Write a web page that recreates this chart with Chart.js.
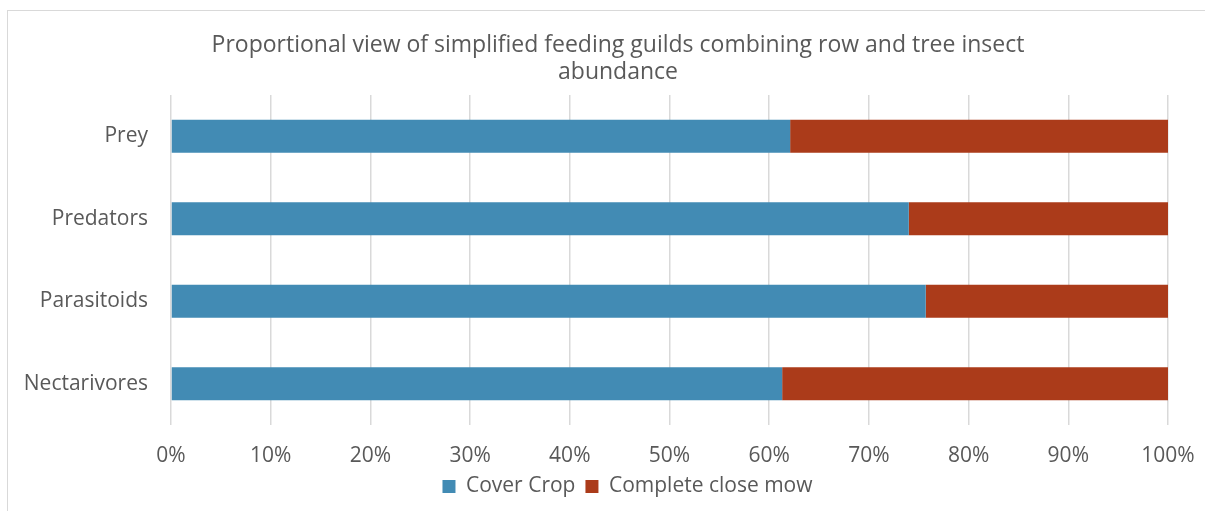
<!DOCTYPE html>
<html>
<head>
<meta charset="utf-8">
<script src="https://cdn.jsdelivr.net/npm/chart.js@4.4.0/dist/chart.umd.min.js"></script>
<style>
  html, body { margin: 0; padding: 0; background: #fff; overflow: hidden; }
  #wrap { position: relative; width: 1205px; height: 511px; }
  #frame { position: absolute; left: 7px; top: 10px; width: 1300px; height: 600px;
           border-top: 1.5px solid #d9d9d9; border-left: 1.5px solid #d9d9d9; }
  canvas { position: absolute; left: 0; top: 0; }
</style>
</head>
<body>
<div id="wrap">
  <div id="frame"></div>
  <canvas id="guildChart" width="1205" height="511"></canvas>
</div>
<script>
const guilds = ['Prey', 'Predators', 'Parasitoids', 'Nectarivores'];
const coverCrop = [62.1, 74.0, 75.7, 61.3];
const closeMow = [37.9, 26.0, 24.3, 38.7];
const pctTicks = [0, 10, 20, 30, 40, 50, 60, 70, 80, 90, 100];

const font = "'Open Sans', Lato, sans-serif";
Chart.defaults.font.family = font;
Chart.defaults.color = '#595959';

// the chart frame runs past the right edge of the picture, so the title
// and legend are centred on the frame rather than on the canvas
const frameCentre = {
  id: 'frameCentre',
  afterLayout(chart) {
    chart.titleBlock.left = 31;
    chart.legend.left = 50;
  }
};

const ctx = document.getElementById('guildChart');
new Chart(ctx, {
  type: 'bar',
  data: {
    labels: guilds,
    datasets: [
      {
        label: 'Cover Crop',
        data: coverCrop,
        backgroundColor: '#428bb4',
        barPercentage: 1,
        categoryPercentage: 0.4
      },
      {
        label: 'Complete close mow',
        data: closeMow,
        backgroundColor: '#ab3b1a',
        barPercentage: 1,
        categoryPercentage: 0.4
      }
    ]
  },
  plugins: [frameCentre],
  options: {
    indexAxis: 'y',
    responsive: false,
    animation: false,
    layout: { padding: { left: 0, right: 0, top: 0, bottom: 4 } },
    plugins: {
      title: {
        display: true,
        text: ['Proportional view of simplified feeding guilds combining row and tree insect', 'abundance'],
        color: '#595959',
        font: { size: 23, weight: 'normal', lineHeight: 1.174 },
        padding: { top: 32, bottom: 9 }
      },
      legend: {
        position: 'bottom',
        labels: {
          boxWidth: 13,
          boxHeight: 13,
          padding: 10,
          color: '#595959',
          font: { size: 21 }
        }
      },
      tooltip: { enabled: false }
    },
    scales: {
      x: {
        stacked: true,
        min: 0,
        max: 100,
        afterBuildTicks: scale => { scale.ticks = pctTicks.map(v => ({ value: v })); },
        afterFit: scale => { scale.height = 41; scale.paddingRight = 37; },
        border: { display: false },
        grid: { color: '#d9d9d9', lineWidth: 1.5, drawTicks: false },
        ticks: {
          padding: 18,
          color: '#595959',
          font: { size: 21 },
          callback: v => v + '%'
        }
      },
      y: {
        stacked: true,
        afterFit: scale => { scale.width = 171; },
        border: { display: false },
        grid: { display: false, drawTicks: false },
        ticks: {
          padding: 23,
          color: '#595959',
          font: { size: 21 }
        }
      }
    }
  }
});
</script>
</body>
</html>
